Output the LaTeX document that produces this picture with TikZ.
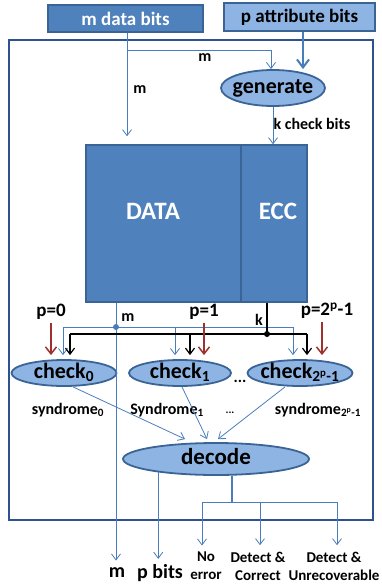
\documentclass[tikz,border=0pt]{standalone}
\usepackage{fontspec}
\setmainfont{Carlito}
\usetikzlibrary{shapes.geometric,arrows.meta,positioning}
\definecolor{boxblue}{HTML}{4F81BD}
\definecolor{lineblue}{HTML}{4A7EBB}
\definecolor{darkblue}{HTML}{3A6496}
\definecolor{lightblue}{HTML}{8EB4E3}
\definecolor{framecol}{HTML}{2E5290}
\definecolor{darkred}{HTML}{A0302C}

\begin{document}
\begin{tikzpicture}[x=1pt, y=-1pt,
    block/.style={draw=darkblue, line width=1.5pt, rectangle, inner sep=0pt, font=\bfseries\fontsize{19}{21}\selectfont},
    oval/.style={draw=darkblue, line width=1.8pt, ellipse, fill=lightblue, inner xsep=-8pt, inner ysep=0pt, text height=13pt, text depth=2pt, font=\bfseries\fontsize{22}{24}\selectfont},
    edge/.style={-{Straight Barb[length=6pt,width=9pt]}, draw=lineblue, line width=0.8pt},
    kedge/.style={-{Straight Barb[length=6pt,width=9pt]}, draw=black, line width=1.2pt},
    pedge/.style={-{Straight Barb[length=7pt,width=11pt]}, draw=darkred, line width=1.5pt},
    label/.style={font=\bfseries\fontsize{16}{18}\selectfont},
    plabel/.style={font=\bfseries\fontsize{19}{21}\selectfont},
    slabel/.style={font=\bfseries\fontsize{16}{18}\selectfont},
    biglabel/.style={font=\bfseries\fontsize{20}{22}\selectfont},
    outlabel/.style={font=\bfseries\fontsize{15}{18}\selectfont, align=center},
]

\useasboundingbox (0,0) rectangle (381,586);

% Frame
\node[draw=framecol, line width=2pt, minimum width=364pt, minimum height=480pt, inner sep=0pt] (frame) at (191,280) {};

% Inputs
\node[block, fill=boxblue, text=white, minimum width=155pt, minimum height=27pt] (mdata) at (125.5,18.5) {m data bits};
\node[block, fill=lightblue, minimum width=151pt, minimum height=28pt] (pattr) at (299.5,17) {p attribute bits};

% Generator
\node[oval, minimum width=104pt, minimum height=36pt] (gen) at (273,88) {generate};

% Memory
\node[block, fill=boxblue, minimum width=155pt, minimum height=157pt] (data) at (163.5,223.5) {};
\node[block, fill=boxblue, minimum width=66pt, minimum height=157pt] (ecc) at (274,223.5) {};
\node[font=\bfseries\fontsize{25}{27}\selectfont, text=white] (datatxt) at (153,211) {DATA};
\node[font=\bfseries\fontsize{25}{27}\selectfont, text=white] (ecctxt) at (278,211) {ECC};

% Checkers
\node[oval, minimum width=105pt, minimum height=26pt] (chk0) at (64,373) {check\textsubscript{0}};
\node[oval, minimum width=102pt, minimum height=26pt] (chk1) at (180,373) {check\textsubscript{1}};
\node[oval, minimum width=105pt, minimum height=26pt] (chk2) at (300,373) {check\textsubscript{2\textsuperscript{p}-1}};
\node[slabel] (dots1) at (240,381) {...};

% Decoder
\node[oval, minimum width=186pt, minimum height=32pt, font=\bfseries\fontsize{23}{25}\selectfont] (dec) at (216,459) {decode};

% Labels
\node[label] (mtop) at (205,58) {m};
\node[label] (mleft) at (140,90) {m};
\node[label, anchor=west] (kbits) at (270,124) {k check bits};
\node[label] (mmid) at (128,318) {m};
\node[label] (kmid) at (259,320) {k};
\node[plabel] (p0) at (51,312) {p=0};
\node[plabel] (p1) at (204,312) {p=1};
\node[plabel] (p2) at (327,311) {p=2\textsuperscript{p}-1};
\node[slabel] (syn0) at (68,410) {syndrome\textsubscript{0}};
\node[slabel] (syn1) at (167,410) {Syndrome\textsubscript{1}};
\node[slabel] (syn2) at (318,410) {syndrome\textsubscript{2\textsuperscript{p}-1}};
\node[font=\bfseries\fontsize{11}{12}\selectfont] (dots2) at (230,413) {...};

% Outputs
\node[biglabel] (mout) at (117,573) {m};
\node[biglabel] (pout) at (160,573) {p bits};
\node[outlabel] (noerr) at (206,566) {No\\error};
\node[outlabel] (corr) at (258,566) {Detect \&\\Correct};
\node[outlabel] (unrec) at (334,566) {Detect \&\\Unrecoverable};

% Junctions
\coordinate (mcol) at (127,50);
\coordinate (pcol) at (303,0);
\coordinate (bluedot) at (116,327);
\coordinate (kdot) at (267,334);
\coordinate (bus0) at (63,327);
\coordinate (bus1) at (175,327);
\coordinate (bus2) at (293,327);
\coordinate (kbus0) at (70,334);
\coordinate (kbus1) at (190,334);
\coordinate (kbus2) at (307,334);
\coordinate (outsplit) at (232,502);
\coordinate (out0) at (202,502);
\coordinate (out1) at (260,502);
\coordinate (out2) at (337,502);

% Write path
\draw[edge, shorten >=8pt] (mdata.south -| mcol) -- (mcol |- data.north);
\draw[edge] (mcol) -| ([xshift=-2pt]gen.north);
\draw[edge, line width=2pt, -{Straight Barb[length=8pt,width=12pt]}] (pattr.south -| pcol) -- (pcol |- gen.north);
\draw[edge] (gen.south) -- (gen.south |- ecc.north);

% Read path
\draw[edge, shorten >=4pt] (bluedot |- data.south) -- (bluedot |- mout.north);
\draw[lineblue, line width=0.8pt] (bus0) -- (bus2);
\fill[lineblue] (bluedot) circle (3pt);
\draw[edge, shorten >=4pt] (bus0) -- (bus0 |- chk0.north);
\draw[edge, shorten >=4pt] (bus1) -- (bus1 |- chk1.north);
\draw[edge, shorten >=4pt] (bus2) -- (bus2 |- chk2.north);

\draw[black, line width=1.2pt] (kdot |- ecc.south) -- (kdot);
\draw[black, line width=1.2pt] (kbus0) -- (kbus2);
\fill (kdot) circle (3pt);
\draw[kedge, shorten >=4pt] (kbus0) -- (kbus0 |- chk0.north);
\draw[kedge, shorten >=4pt] (kbus1) -- (kbus1 |- chk1.north);
\draw[kedge, shorten >=4pt] (kbus2) -- (kbus2 |- chk2.north);

\draw[pedge, shorten >=4pt] (p0.south) -- (p0.south |- chk0.north);
\draw[pedge, shorten >=4pt] (p1.south) -- (p1.south |- chk1.north);
\draw[pedge, shorten >=4pt] ([xshift=-5pt]p2.south) -- ([xshift=-5pt]p2.south |- chk2.north);

% Syndromes
\draw[edge] ([xshift=9pt]chk0.south) -- ([xshift=-31pt,yshift=3pt]dec.north);
\draw[edge] ([xshift=2pt]chk1.south) -- ([xshift=-9pt,yshift=3pt]dec.north);
\draw[edge] ([xshift=-15pt]chk2.south) -- ([xshift=2pt,yshift=3pt]dec.north);

% Decoder outputs
\draw[edge, shorten >=2pt] (dec.193) -- (dec.193 |- pout.north);
\draw[lineblue, line width=1.5pt] (dec.south -| outsplit) -- (outsplit);
\draw[lineblue, line width=0.8pt] (out0) -- (out2);
\draw[edge, shorten >=3pt] (out0) -- (out0 |- noerr.north);
\draw[edge, shorten >=3pt] (out1) -- (out1 |- corr.north);
\draw[edge, shorten >=3pt] (out2) -- (out2 |- unrec.north);

\end{tikzpicture}
\end{document}
